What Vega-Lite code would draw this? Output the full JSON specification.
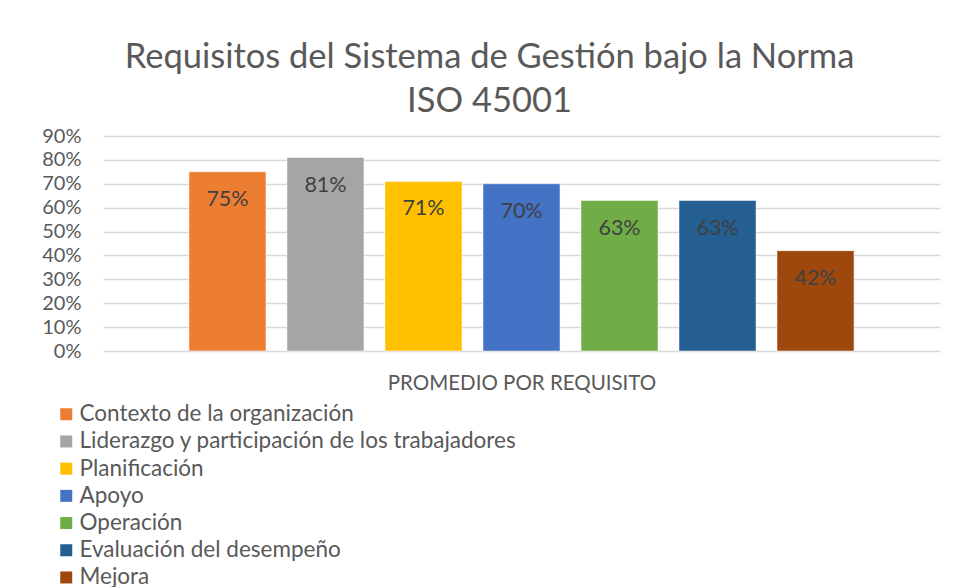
{
  "$schema": "https://vega.github.io/schema/vega-lite/v6.json",
  "autosize": "none",
  "width": 837,
  "height": 215,
  "padding": {"left": 103, "top": 136, "right": 16, "bottom": 236},
  "background": "white",
  "title": {
    "text": ["Requisitos del Sistema de Gestión bajo la Norma", "ISO 45001"],
    "font": "Lato",
    "fontSize": 34.5,
    "fontWeight": "normal",
    "color": "#595959",
    "lineHeight": 44,
    "anchor": "middle",
    "dx": -32,
    "offset": 7
  },
  "config": {
    "font": "Lato",
    "view": {"stroke": null}
  },
  "data": {
    "values": [
      {"grupo": "PROMEDIO POR REQUISITO", "requisito": "Contexto de la organización", "orden": 1, "valor": 0.75},
      {"grupo": "PROMEDIO POR REQUISITO", "requisito": "Liderazgo y participación de los trabajadores", "orden": 2, "valor": 0.81},
      {"grupo": "PROMEDIO POR REQUISITO", "requisito": "Planificación", "orden": 3, "valor": 0.71},
      {"grupo": "PROMEDIO POR REQUISITO", "requisito": "Apoyo", "orden": 4, "valor": 0.70},
      {"grupo": "PROMEDIO POR REQUISITO", "requisito": "Operación", "orden": 5, "valor": 0.63},
      {"grupo": "PROMEDIO POR REQUISITO", "requisito": "Evaluación del desempeño", "orden": 6, "valor": 0.63},
      {"grupo": "PROMEDIO POR REQUISITO", "requisito": "Mejora", "orden": 7, "valor": 0.42}
    ]
  },
  "encoding": {
    "x": {
      "field": "grupo",
      "type": "nominal",
      "scale": {"paddingInner": 0, "paddingOuter": 0.11},
      "axis": {
        "labels": false,
        "ticks": false,
        "domain": false,
        "title": "PROMEDIO POR REQUISITO",
        "titleFont": "Lato",
        "titleFontSize": 20.5,
        "titleFontWeight": "normal",
        "titleColor": "#595959",
        "titlePadding": 22
      }
    },
    "xOffset": {
      "field": "requisito",
      "type": "nominal",
      "sort": {"field": "orden"},
      "scale": {"paddingInner": 0.214, "paddingOuter": 0.107}
    },
    "y": {
      "field": "valor",
      "type": "quantitative",
      "scale": {"domain": [0, 0.9], "nice": false},
      "axis": {
        "values": [0, 0.1, 0.2, 0.3, 0.4, 0.5, 0.6, 0.7, 0.8, 0.9],
        "format": ".0%",
        "title": null,
        "domain": false,
        "ticks": false,
        "labelFont": "Lato",
        "labelFontSize": 20,
        "labelColor": "#595959",
        "labelPadding": 22,
        "gridColor": "#d9d9d9",
        "gridWidth": 1.5
      }
    }
  },
  "layer": [
    {
      "mark": {"type": "bar", "stroke": "white", "strokeWidth": 0.5},
      "encoding": {
        "color": {
          "field": "requisito",
          "type": "nominal",
          "sort": {"field": "orden"},
          "scale": {
            "domain": ["Contexto de la organización", "Liderazgo y participación de los trabajadores", "Planificación", "Apoyo", "Operación", "Evaluación del desempeño", "Mejora"],
            "range": ["#ED7D31", "#A5A5A5", "#FFC000", "#4472C4", "#70AD47", "#255E91", "#9E480E"]
          },
          "legend": {
            "title": null,
            "orient": "none",
            "legendX": -48,
            "legendY": 267,
            "direction": "vertical",
            "symbolType": "square",
            "symbolSize": 144,
            "symbolStrokeWidth": 0,
            "labelFont": "Lato",
            "labelFontSize": 22.5,
            "labelColor": "#595959",
            "labelOffset": 2,
            "rowPadding": 4.2,
            "labelLimit": 600
          }
        }
      }
    },
    {
      "mark": {"type": "text", "baseline": "middle", "dy": 28, "font": "Lato", "fontSize": 21.5, "color": "#404040"},
      "encoding": {
        "text": {"field": "valor", "type": "quantitative", "format": ".0%"}
      }
    }
  ]
}
